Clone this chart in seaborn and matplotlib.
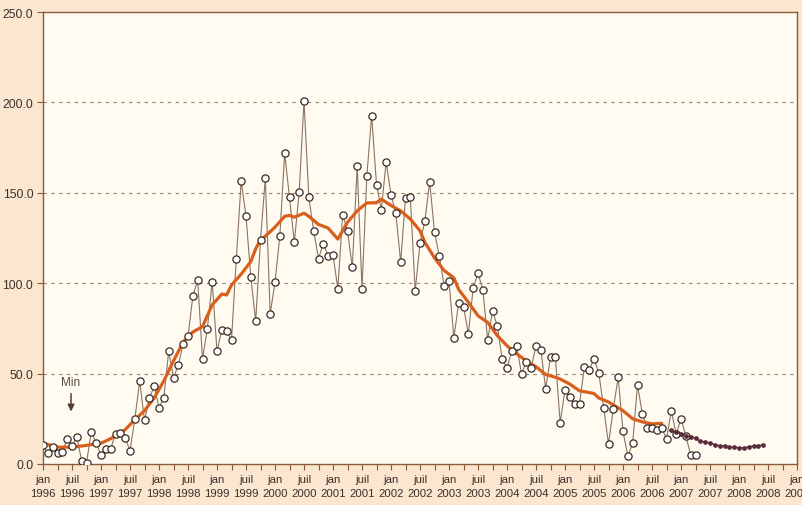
import numpy as np
import pandas as pd
import seaborn as sns
import matplotlib.pyplot as plt
from matplotlib.ticker import MultipleLocator, FuncFormatter

# monthly values, month 0 = jan 1996
observed = [10.7, 5.9, 9.2, 5.9, 6.5, 13.8, 10.0, 14.7, 1.8, 0.7, 17.9, 11.6,
            5.0, 8.3, 8.3, 16.8, 17.1, 14.5, 7.4, 24.9, 45.7, 24.3, 36.3, 43.0,
            31.1, 36.7, 62.3, 47.7, 54.8, 66.4, 70.6, 92.8, 101.9, 58.1, 74.8, 100.7,
            62.3, 74.3, 73.4, 68.6, 113.6, 156.5, 137.2, 103.3, 78.9, 123.9, 158.0, 83.0,
            100.5, 126.3, 172.0, 147.5, 122.6, 150.3, 200.8, 147.5, 128.9, 113.6, 121.9, 115.0,
            115.6, 97.0, 137.9, 128.9, 108.8, 164.8, 97.0, 159.3, 192.7, 154.5, 140.7, 167.0,
            149.0, 138.7, 111.6, 147.1, 147.5, 95.6, 122.1, 134.4, 156.0, 128.3, 115.0, 98.5,
            101.2, 69.9, 88.9, 87.0, 72.1, 97.2, 105.5, 96.4, 68.6, 84.6, 76.3, 58.1,
            53.3, 62.3, 65.3, 49.8, 56.6, 53.3, 65.3, 63.1, 41.7, 59.0, 59.0, 22.9,
            40.9, 37.2, 33.2, 33.2, 53.5, 52.0, 58.3, 50.2, 31.1, 11.1, 30.6, 47.9,
            18.1, 4.2, 11.6, 43.7, 27.7, 20.1, 20.1, 19.0, 20.1, 14.0, 29.3, 16.4,
            25.1, 15.5, 5.2, 5.2]

trend_months = [0, 3, 6, 9, 12, 14, 17, 19, 21, 23, 25, 27, 29, 31, 33, 35, 37, 38, 39,
                41, 43, 44, 45, 46, 48, 50, 51, 52, 54, 55, 57, 59, 61, 63, 65, 67, 69,
                70, 72, 74, 76, 78, 79, 81, 83, 85, 86, 88, 90, 92, 94, 96, 98, 100, 102,
                104, 106, 107, 109, 111, 114, 115, 117, 120, 122, 124, 126, 128]
trend_values = [11.5, 9.3, 9.3, 10.3, 11.5, 14.0, 19.0, 24.5, 29.5, 36.5, 46.0, 57.0, 67.5,
                73.0, 76.0, 88.0, 94.0, 93.5, 99.0, 105.0, 112.0, 119.0, 124.0, 126.0,
                131.0, 137.0, 137.5, 136.5, 138.7, 137.0, 132.5, 130.5, 124.4, 133.7,
                140.0, 144.4, 144.5, 146.5, 143.0, 140.0, 135.5, 129.0, 122.6, 114.0,
                107.0, 103.0, 96.5, 89.5, 82.0, 78.3, 71.0, 65.4, 61.0, 57.0, 53.8, 49.5,
                48.0, 47.0, 44.2, 40.5, 39.0, 36.5, 34.3, 29.5, 25.0, 23.3, 22.2, 22.5]

forecast_start = 130
forecast = [18.8, 17.5, 16.8, 15.7, 14.9, 14.2, 12.6, 12.3, 11.6, 10.7, 10.1, 10.0,
            9.2, 9.2, 9.0, 9.0, 9.4, 10.0, 10.1, 10.7]

month_names = ["jan", "juil"]
first_year, last_year = 1996, 2009

obs_df = pd.DataFrame({"month": np.arange(len(observed)), "value": observed})
trend_df = pd.DataFrame({"month": trend_months, "value": trend_values})
fc_df = pd.DataFrame({"month": np.arange(forecast_start, forecast_start + len(forecast)),
                      "value": forecast})

sns.set_style("ticks")
plt.rcParams["font.family"] = ["Liberation Sans", "DejaVu Sans"]

outer_bg = "#fbe6cf"
inner_bg = "#fffbf0"
spine_col = "#8a5a3a"
text_col = "#3b302b"

fig = plt.figure(figsize=(8.02, 5.06), dpi=100, facecolor=outer_bg)
ax = fig.add_axes([43 / 802, 41 / 506, 754 / 802, 452 / 506])
ax.set_facecolor(inner_bg)

for y in [50, 100, 150, 200]:
    ax.axhline(y, color="#9a8070", lw=0.8, ls=(0, (3, 4)), zorder=1)

sns.lineplot(data=obs_df, x="month", y="value", color="#8c7460", lw=0.8,
             estimator=None, sort=False, ax=ax, zorder=2)
sns.lineplot(data=trend_df, x="month", y="value", color="#d9601c", lw=2.3,
             estimator=None, sort=False, ax=ax, zorder=3)
sns.lineplot(data=obs_df, x="month", y="value", lw=0, marker="o", markersize=5.2,
             markerfacecolor="white", markeredgecolor="#3a2a22", markeredgewidth=0.9,
             estimator=None, sort=False, ax=ax, zorder=4)
sns.lineplot(data=fc_df, x="month", y="value", color="#5a2c3a", lw=1.0, marker="o",
             markersize=3.4, markeredgewidth=0, estimator=None, sort=False, ax=ax, zorder=5)

ax.annotate("", xy=(5.8, 27.5), xytext=(5.8, 40.5),
            arrowprops=dict(arrowstyle="-|>", color="#5a3a36", lw=1.1, mutation_scale=10))
ax.text(5.8, 45.5, "Min", ha="center", va="center", fontsize=8.5, color="#5a4a42")

ax.set_xlim(0, (last_year - first_year) * 12)
ax.set_ylim(0, 250)
ax.xaxis.set_major_locator(MultipleLocator(6))
ax.xaxis.set_minor_locator(MultipleLocator(3))
ax.yaxis.set_major_locator(MultipleLocator(50))
ax.xaxis.set_major_formatter(FuncFormatter(
    lambda v, p: f"{month_names[int(round(v)) // 6 % 2]}\n{first_year + int(round(v)) // 12}"))
ax.yaxis.set_major_formatter(FuncFormatter(lambda v, p: f"{v:.1f}"))

ax.tick_params(axis="x", which="both", length=4, width=0.8, color=spine_col, pad=3,
               labelsize=8.2, labelcolor=text_col)
ax.tick_params(axis="y", length=4, width=0.8, color=spine_col, pad=3,
               labelsize=8.8, labelcolor=text_col)
for lab in ax.get_xticklabels():
    lab.set_linespacing(1.55)

for s in ax.spines.values():
    s.set_color(spine_col)
    s.set_linewidth(1.0)

ax.set_xlabel("")
ax.set_ylabel("")
fig.savefig("out.png", dpi=100, facecolor=outer_bg)
